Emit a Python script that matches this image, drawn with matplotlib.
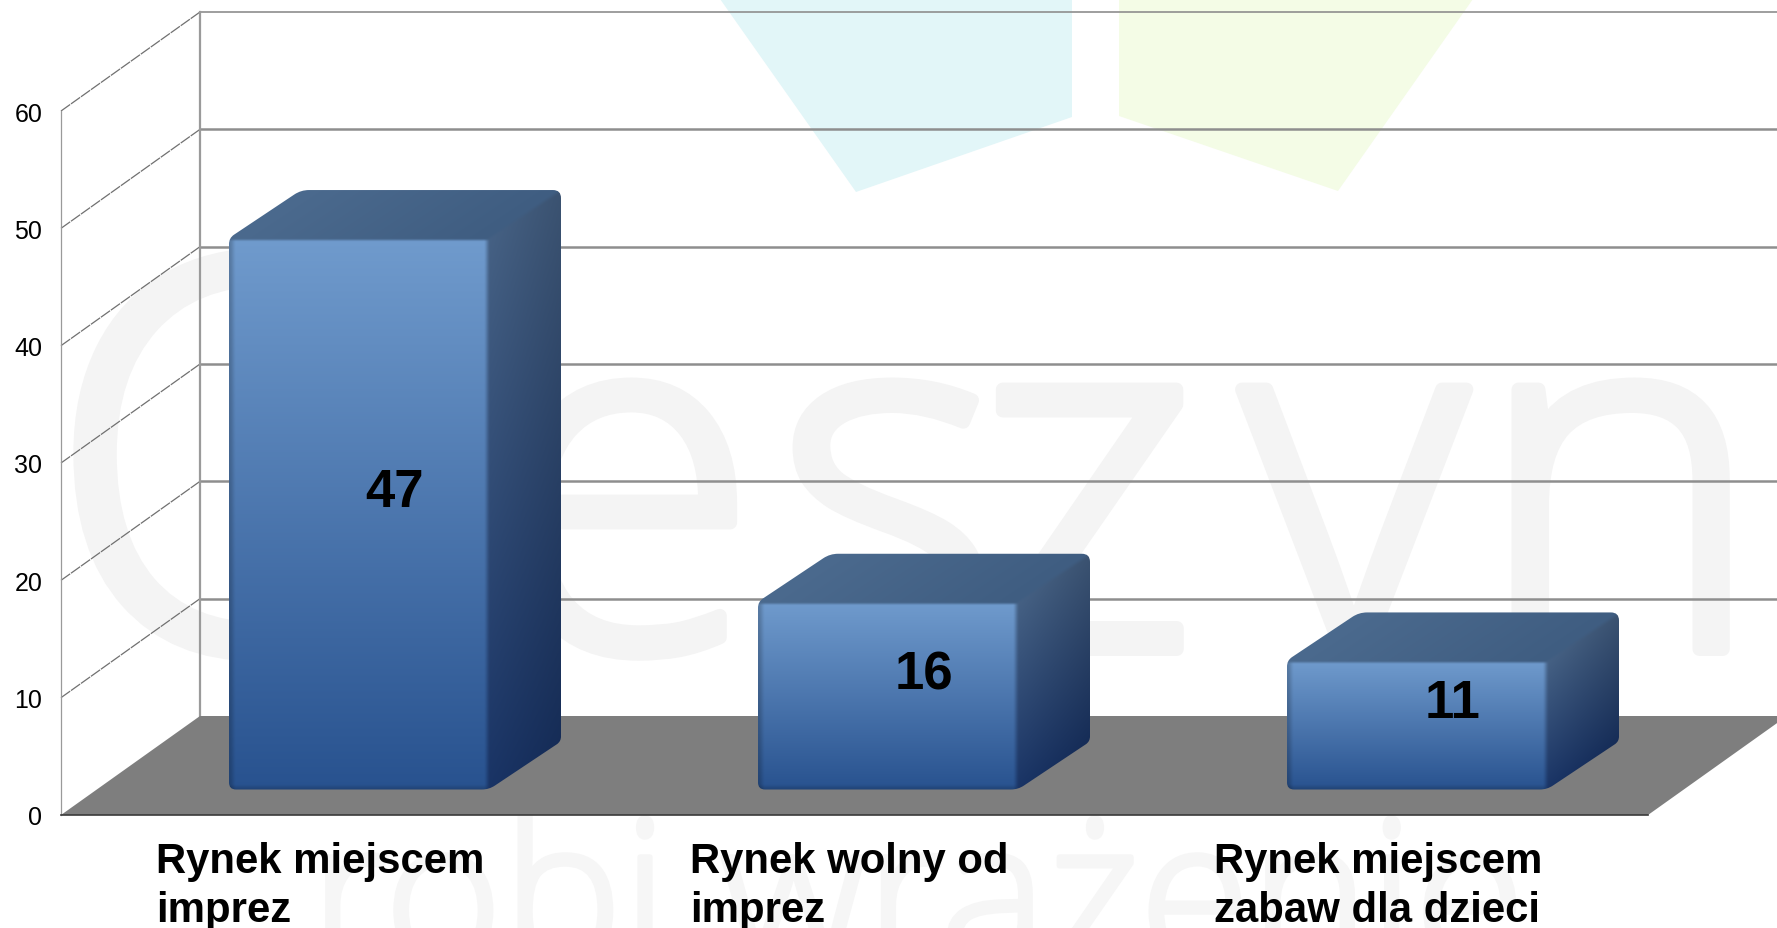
import numpy as np
import matplotlib
matplotlib.use("Agg")
import matplotlib.pyplot as plt
import matplotlib.patheffects as pe
from matplotlib.path import Path
from matplotlib.patches import Polygon
from matplotlib.transforms import Affine2D

categories = ["Rynek miejscem\nimprez", "Rynek wolny od\nimprez", "Rynek miejscem\nzabaw dla dzieci"]
values = [47, 16, 11]
y_ticks = [0, 10, 20, 30, 40, 50, 60]
watermark_letters = ["C", "i", "e", "s", "z", "y", "n"]

W, H = 1777, 929
plt.rcParams["font.family"] = ["Liberation Sans", "DejaVu Sans"]
fig = plt.figure(figsize=(W / 100, H / 100), dpi=100, facecolor="white")
L, R, B, T = 61, 1648, 816, 112
ax = fig.add_axes([L / W, (H - B) / H, (R - L) / W, (B - T) / H])
ax.patch.set_visible(False)
for s in ax.spines.values():
    s.set_visible(False)

SX = (R - L) / 3.0          # px per category
SY = (B - T) / 60.0         # px per value unit
FX, FY = 139 / SX, 99 / SY  # depth of the chart box
BAR_DX, BAR_DY = 72.0, 48.0 # depth of a bar, px
BAR_W = 260.0
BAR_SHIFT = 33.5 / SX
BAR_BASE = 25.5 / SY

px = Affine2D().scale(1 / W, -1 / H).translate(0, 1) + fig.transFigure

# page watermark
ax.fill([720, 1072, 1072, 856], [0, 0, 118, 193], color="#E2F6F8", lw=0, transform=px, zorder=0.1, clip_on=False)
ax.fill([1119, 1473, 1338, 1119], [0, 0, 192, 117], color="#F4FCE6", lw=0, transform=px, zorder=0.1, clip_on=False)
letter_x = [46, 410, 490, 773, 972, 1242, 1475]
letter_size = [392, 352, 352, 352, 352, 352, 352]
for ch, lx, ls in zip(watermark_letters, letter_x, letter_size):
    t = ax.text(lx, 650, ch, transform=px, fontsize=ls, family="Open Sans", fontweight="light",
                color="#F4F4F4", ha="left", va="baseline", zorder=0.2, clip_on=False)
    t.set_path_effects([pe.withStroke(linewidth=10, foreground="#F4F4F4")])
wm2 = ax.text(310, 965, "robi wrażenie", transform=px, fontsize=145, family="Open Sans", fontweight="light",
              color="#F6F6F6", ha="left", va="baseline", zorder=0.2, clip_on=False)
wm2.set_path_effects([pe.withStroke(linewidth=4, foreground="#F6F6F6")])

# box: back wall, side wall, floor
x_left, x_right = -0.5, 2.5
for v in y_ticks[1:]:
    ax.plot([x_left + FX, x_right + FX], [v + FY, v + FY], color="#8E8E8E",
            lw=1.8 if v < 60 else 1.2, zorder=1, clip_on=False, solid_capstyle="butt")
    ax.plot([x_left, x_left + FX], [v, v + FY], color="#707070", lw=0.9,
            dashes=(9, 0.8), zorder=1, clip_on=False)
ax.plot([x_left, x_left], [0, 60], color="#9A9A9A", lw=0.9, zorder=1, clip_on=False)
ax.plot([x_left + FX, x_left + FX], [FY, 60 + FY], color="#9A9A9A", lw=1.6, zorder=1, clip_on=False)
ax.add_patch(Polygon([(x_left, 0), (x_right, 0), (x_right + FX, FY), (x_left + FX, FY)],
                     closed=True, fc="#7E7E7E", ec="none", zorder=2, clip_on=False))
ax.plot([x_left, x_right], [0, 0], color="#3A3A3A", lw=1.2, zorder=2.1, clip_on=False)


def rgb(h):
    return np.array([int(h[i:i + 2], 16) / 255 for i in (1, 3, 5)])


def smooth(a, b, x):
    t = np.clip((x - a) / (b - a), 0, 1)
    return t * t * (3 - 2 * t)


def mix(c0, c1, t):
    return c0[None, None, :] * (1 - t[..., None]) + c1[None, None, :] * t[..., None]


def rounded(verts, radii):
    verts = [np.array(v, float) for v in verts]
    n = len(verts)
    pts, codes = [], []
    for i in range(n):
        p, a, b = verts[i], verts[i - 1], verts[(i + 1) % n]
        r = radii[i]
        u = (a - p) / np.linalg.norm(a - p)
        w = (b - p) / np.linalg.norm(b - p)
        pts.append(p + u * r)
        codes.append(Path.MOVETO if i == 0 else Path.LINETO)
        pts.extend([p, p + w * r])
        codes.extend([Path.CURVE3, Path.CURVE3])
    pts.append(pts[0])
    codes.append(Path.CLOSEPOLY)
    return np.array(pts), codes


def draw_bar(center, value):
    h = value * SY
    w, dx, dy = BAR_W, BAR_DX, BAR_DY
    xs = np.arange(0, w + dx + 1.0)
    ys = np.arange(0, h + dy + 1.0)
    X, Y = np.meshgrid(xs, ys)

    # front face
    front = mix(rgb("#709BCD"), rgb("#28528F"), np.clip(1 - Y / h, 0, 1))
    edge = 0.80 + 0.20 * smooth(0, 7, X)
    low = 0.84 + 0.16 * smooth(0, 6, Y)
    front = front * (edge * low)[..., None]

    # side face (sheared gradient)
    frac = np.clip((X - w) / dx, 0, 1)
    vs = np.clip((Y - dy * frac) / h, 0, 1)
    side = mix(rgb("#172F5C"), rgb("#3F5878"), vs)
    side = side * (1.10 - 0.16 * frac)[..., None]
    side = np.clip(side, 0, 1)

    # top face
    ut = np.clip((X - (Y - h) / dy * dx) / w, 0, 1)
    top = mix(rgb("#4B6A8E"), rgb("#3F5D81"), ut)

    # blend faces softly along their shared edges
    diag = (Y - h) - (X - w) * dy / dx
    a_top = smooth(-3, 3, diag)
    back = side * (1 - a_top[..., None]) + top * a_top[..., None]
    a_front = (1 - smooth(w - 6, w + 1, X)) * (1 - smooth(h - 4, h, Y))
    img = back * (1 - a_front[..., None]) + front * a_front[..., None]

    x0 = center - w / 2 / SX
    to_data = lambda p: (x0 + p[:, 0] / SX, BAR_BASE + p[:, 1] / SY)
    im = ax.imshow(img, origin="lower", aspect="auto", interpolation="bilinear", zorder=3,
                   extent=(x0, x0 + (w + dx + 1) / SX, BAR_BASE, BAR_BASE + (h + dy + 1) / SY))
    outline, codes = rounded([(0, 0), (w, 0), (w + dx, dy), (w + dx, h + dy), (dx, h + dy), (0, h)],
                             [7, 7, 5, 8, 8, 6])
    xd, yd = to_data(outline)
    im.set_clip_path(Path(np.column_stack([xd, yd]), codes), ax.transData)

    ax.text(center + dx / 2 / SX, BAR_BASE + value / 2 + (dy / 2 - 2.5) / SY, str(value), fontsize=38,
            fontweight="bold", color="black", ha="center", va="center", zorder=4)


for i, v in enumerate(values):
    draw_bar(i + BAR_SHIFT, v)

ax.set_yticks(y_ticks)
ax.set_xticks(np.arange(len(categories)) - 5.5 / SX)
ax.set_xticklabels(categories, fontsize=30.2, fontweight="bold", color="black", linespacing=1.28)
for lab in ax.get_xticklabels():
    lab.set_multialignment("left")
ax.tick_params(axis="x", length=0, pad=19)
ax.tick_params(axis="y", length=0, pad=13.5, labelsize=18, labelcolor="black")
ax.set_xlim(x_left, x_right)
ax.set_ylim(0, 60)
fig.savefig("out.png", dpi=100)
